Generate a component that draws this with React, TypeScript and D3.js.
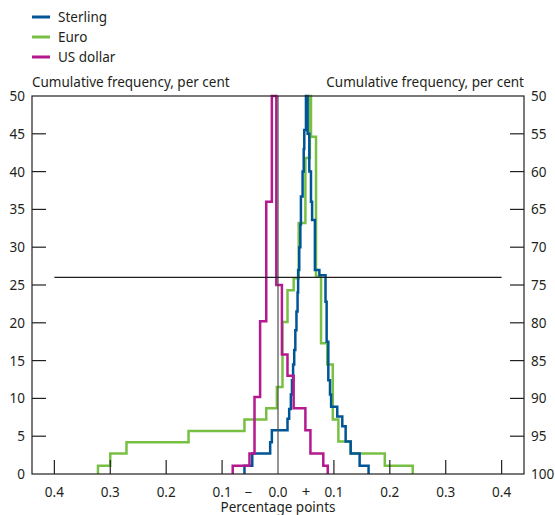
import React from 'react';
import * as d3 from 'd3';

// step positions (percentage points) and the cumulative level reached at each step
const sterlingX = [-0.060, -0.046, -0.014, -0.011, 0.017, 0.020, 0.023, 0.025, 0.027, 0.029, 0.031, 0.033, 0.035, 0.036, 0.038, 0.040, 0.041, 0.044, 0.046, 0.047, 0.050,
  0.053, 0.056, 0.059, 0.061, 0.066, 0.074, 0.085, 0.087, 0.090, 0.093, 0.095, 0.106, 0.115, 0.121, 0.130, 0.146, 0.162];
const sterlingY = [1.1, 2.7, 4.2, 5.8, 7.3, 8.6, 10.5, 12.4, 14.5, 16.4, 19, 21.5, 24, 27, 30, 33, 36.7, 40, 43, 45.5, 50,
  45, 40, 36, 33.6, 27, 26.3, 22.8, 17.5, 12.4, 10.5, 8.9, 7.6, 6.3, 4.3, 2.7, 1.1, 0];

const euroX = [-0.322, -0.300, -0.271, -0.160, -0.060, -0.021, -0.002, 0.008, 0.017, 0.028, 0.037, 0.049, 0.057,
  0.059, 0.068, 0.077, 0.088, 0.098, 0.108, 0.130, 0.191, 0.241];
const euroY = [1.1, 2.7, 4.2, 5.7, 7.2, 8.7, 11.5, 20.1, 24.3, 25.9, 33.2, 41.8, 50,
  44.6, 26.1, 17.3, 14.5, 7.2, 4.3, 2.7, 1.1, 0];

const usdX = [-0.081, -0.051, -0.042, -0.032, -0.021, -0.011,
  -0.003, 0.007, 0.017, 0.028, 0.049, 0.058, 0.081, 0.089];
const usdY = [1.1, 2.7, 10.2, 20.2, 36, 50,
  25, 15.8, 13, 8.7, 5.8, 2.7, 1.1, 0];

const seriesNames = ['Sterling', 'Euro', 'US dollar'];
const seriesColors = ['#005596', '#78c043', '#b5198f'];

const yTicks = [0, 5, 10, 15, 20, 25, 30, 35, 40, 45, 50];
const xTicks = [-0.4, -0.3, -0.2, -0.1, 0, 0.1, 0.2, 0.3, 0.4];
const refLevel = 26;

const W = 555, H = 515;
const left = 32, right = 524, top = 96, bottom = 474;
const font = '"Noto Sans", "Open Sans", sans-serif';

export default function App() {
  const x = d3.scaleLinear().domain([-0.44, 0.44]).range([left, right]);
  const y = d3.scaleLinear().domain([0, 50]).range([bottom, top]);

  const line = d3.line<[number, number]>()
    .x(d => x(d[0]))
    .y(d => y(d[1]))
    .curve(d3.curveStepAfter);

  const path = (xs: number[], ys: number[]) => {
    const pts: [number, number][] = [[xs[0], 0]];
    xs.forEach((v, i) => pts.push([v, ys[i]]));
    return line(pts) || '';
  };

  const series = [
    { xs: euroX, ys: euroY, color: seriesColors[1] },
    { xs: sterlingX, ys: sterlingY, color: seriesColors[0] },
    { xs: usdX, ys: usdY, color: seriesColors[2] },
  ];

  return (
    <svg width={W} height={H} style={{ position: 'absolute', left: 0, top: 0, background: '#fff' }}
      fontFamily={font} fontSize={13.5} fill="#231f20">
      {/* legend */}
      {seriesNames.map((n, i) => (
        <g key={n} transform={`translate(32,${17 + i * 20})`}>
          <line x1={0} x2={18} y1={0} y2={0} stroke={seriesColors[i]} strokeWidth={3} />
          <text x={26} y={5}>{n}</text>
        </g>
      ))}

      <text x={left} y={87}>Cumulative frequency, per cent</text>
      <text x={right} y={87} textAnchor="end">Cumulative frequency, per cent</text>

      {/* curves */}
      {series.map((s, i) => (
        <path key={i} d={path(s.xs, s.ys)} fill="none" stroke={s.color} strokeWidth={2.5} strokeLinejoin="miter" />
      ))}

      {/* zero line and reference line */}
      <line x1={x(0)} x2={x(0)} y1={top} y2={bottom} stroke="#4d4d4d" strokeWidth={1.2} />
      <line x1={x(-0.4)} x2={x(0.4)} y1={y(refLevel)} y2={y(refLevel)} stroke="#231f20" strokeWidth={1.2} />

      {/* frame */}
      <rect x={left} y={top} width={right - left} height={bottom - top} fill="none" stroke="#231f20" strokeWidth={1.2} />

      {/* y ticks */}
      {yTicks.map(t => (
        <g key={t}>
          {t > 0 && t < 50 && (
            <>
              <line x1={left} x2={left + 14} y1={y(t)} y2={y(t)} stroke="#231f20" strokeWidth={1.2} />
              <line x1={right - 14} x2={right} y1={y(t)} y2={y(t)} stroke="#231f20" strokeWidth={1.2} />
            </>
          )}
          <text x={25} y={y(t) + 5} textAnchor="end">{t}</text>
          <text x={531} y={y(t) + 5}>{100 - t}</text>
        </g>
      ))}

      {/* x ticks */}
      {xTicks.map(t => (
        <g key={t}>
          {t !== 0 && <line x1={x(t)} x2={x(t)} y1={bottom} y2={bottom - 14} stroke="#231f20" strokeWidth={1.2} />}
          <text x={x(t)} y={497} textAnchor="middle">{Math.abs(t).toFixed(1)}</text>
        </g>
      ))}
      <text x={x(-0.053)} y={497} textAnchor="middle">−</text>
      <text x={x(0.050)} y={497} textAnchor="middle" fontSize={15}>+</text>
      <text x={x(0)} y={512} textAnchor="middle">Percentage points</text>
    </svg>
  );
}
